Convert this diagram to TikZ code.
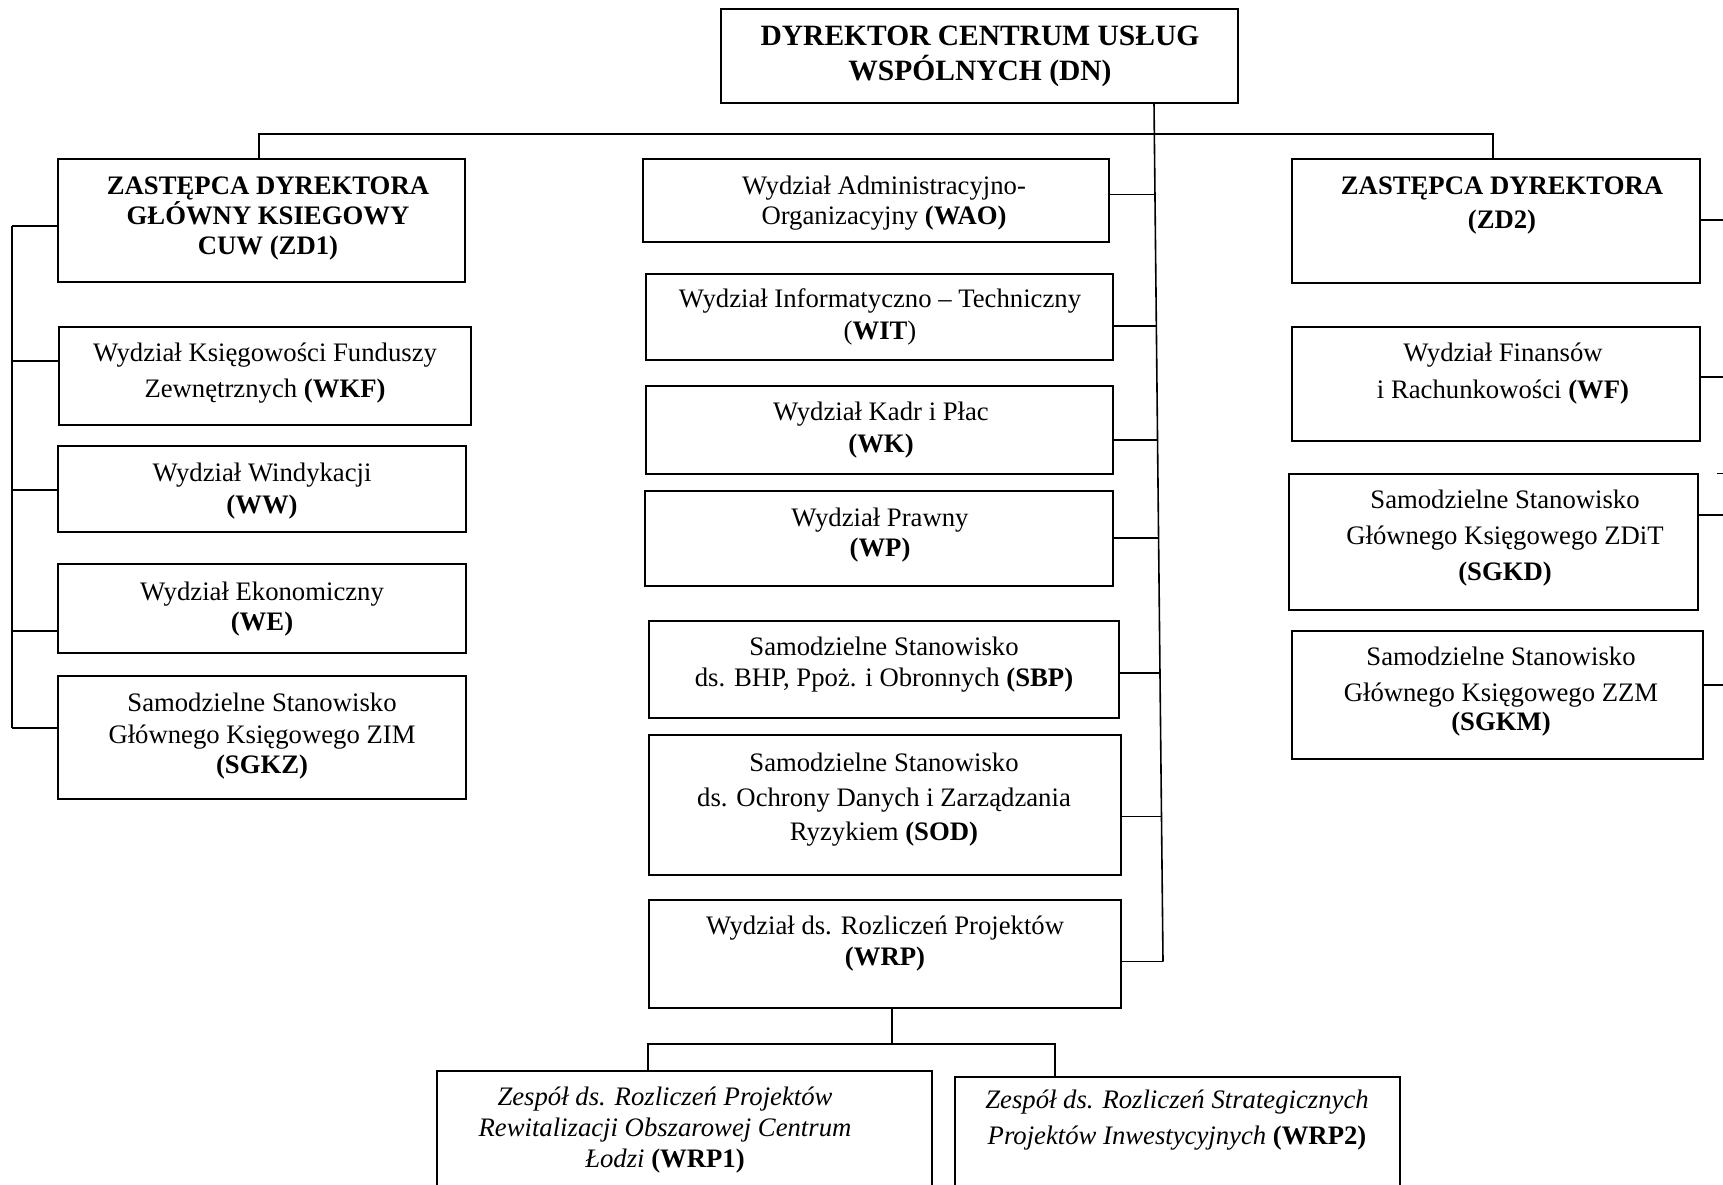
\documentclass[tikz,border=0pt]{standalone}
\usepackage{fontspec}
\setmainfont{Liberation Serif}
\begin{document}
\begin{tikzpicture}[x=1pt,y=-1pt,
  box/.style={draw, line width=1.8pt, inner sep=0pt},
  txt/.style={inner sep=0pt, font=\fontsize{26.7}{31}\selectfont},
  bigtxt/.style={inner sep=0pt, font=\fontsize{29.5}{34}\selectfont\bfseries},
  hd/.style={inner sep=0pt, font=\fontsize{26.7}{31}\selectfont\bfseries},
  conn/.style={line width=1.6pt}]
\newcommand{\bx}[5]{\node[box, minimum width={#4-#2}, minimum height={#5-#3}] (#1) at ({(#2+#4)/2},{(#3+#5)/2}) {};}
\newcommand{\tline}[5][txt]{\node[#1, anchor=base] (#2) at (#3,#4) {#5};}
\useasboundingbox (0,0) rectangle (1723,1185);
\clip (0,0) rectangle (1723,1185);
\fill[white] (0,0) rectangle (1723,1185);
% ---------- boxes ----------
\bx{DN}{721}{9}{1238}{103}
\bx{ZD1}{58}{159}{465}{282}
\bx{WKF}{59}{327}{471}{425}
\bx{WW}{58}{446}{466}{532}
\bx{WE}{58}{564}{466}{653}
\bx{SGKZ}{58}{676}{466}{799}
\bx{WAO}{643}{159}{1109}{242}
\bx{WIT}{646}{274}{1113}{360}
\bx{WK}{646}{386}{1113}{474}
\bx{WP}{645}{491}{1113}{586}
\bx{SBP}{649}{621}{1119}{718}
\bx{SOD}{649}{735}{1121}{875}
\bx{WRP}{649}{900}{1121}{1008}
\bx{WRPa}{437}{1071}{932}{1210}
\bx{WRPb}{955}{1077}{1400}{1210}
\bx{ZD2}{1292}{159}{1700}{283}
\bx{WF}{1292}{327}{1700}{441}
\bx{SGKD}{1289}{474}{1698}{610}
\bx{SGKM}{1292}{631}{1703}{759}
% ---------- texts ----------
\tline[bigtxt]{tDN1}{980}{46}{DYREKTOR CENTRUM USŁUG}
\tline[bigtxt]{tDN2}{980}{81}{WSPÓLNYCH (DN)}
\tline[hd]{tZD1a}{268}{194}{ZASTĘPCA DYREKTORA}
\tline[hd]{tZD1b}{268}{224}{GŁÓWNY KSIEGOWY}
\tline[hd]{tZD1c}{268}{254}{CUW (ZD1)}
\tline[hd]{tZD2a}{1502}{195}{ZASTĘPCA DYREKTORA}
\tline[hd]{tZD2b}{1502}{228}{(ZD2)}
\tline{tWAOa}{884}{195}{Wydział Administracyjno-}
\tline{tWAOb}{884}{225}{Organizacyjny \textbf{(WAO)}}
\tline{tWITa}{880}{307}{Wydział Informatyczno – Techniczny}
\tline{tWITb}{880}{339}{(\textbf{WIT})}
\tline{tWKa}{881}{420}{Wydział Kadr i Płac}
\tline{tWKb}{881}{452}{\textbf{(WK)}}
\tline{tWPa}{880}{526}{Wydział Prawny}
\tline{tWPb}{880}{556}{\textbf{(WP)}}
\tline{tSBPa}{884}{655}{Samodzielne Stanowisko}
\tline{tSBPb}{884}{686}{ds. BHP, Ppoż. i Obronnych \textbf{(SBP)}}
\tline{tSODa}{884}{771}{Samodzielne Stanowisko}
\tline{tSODb}{884}{806}{ds. Ochrony Danych i Zarządzania}
\tline{tSODc}{884}{840}{Ryzykiem \textbf{(SOD)}}
\tline{tWRPa}{885}{934}{Wydział ds. Rozliczeń Projektów}
\tline{tWRPb}{885}{965}{\textbf{(WRP)}}
\tline{tWRP1a}{665}{1105}{\textit{Zespół ds. Rozliczeń Projektów}}
\tline{tWRP1b}{665}{1136}{\textit{Rewitalizacji Obszarowej Centrum}}
\tline{tWRP1c}{665}{1167}{\textit{Łodzi} \textbf{(WRP1)}}
\tline{tWRP2a}{1177}{1108}{\textit{Zespół ds. Rozliczeń Strategicznych}}
\tline{tWRP2b}{1177}{1144}{\textit{Projektów Inwestycyjnych} \textbf{(WRP2)}}
\tline{tWKFa}{265}{361}{Wydział Księgowości Funduszy}
\tline{tWKFb}{265}{397}{Zewnętrznych \textbf{(WKF)}}
\tline{tWWa}{262}{481}{Wydział Windykacji}
\tline{tWWb}{262}{513}{\textbf{(WW)}}
\tline{tWEa}{262}{600}{Wydział Ekonomiczny}
\tline{tWEb}{262}{630}{\textbf{(WE)}}
\tline{tSGKZa}{262}{711}{Samodzielne Stanowisko}
\tline{tSGKZb}{262}{743}{Głównego Księgowego ZIM}
\tline{tSGKZc}{262}{773}{\textbf{(SGKZ)}}
\tline{tWFa}{1503}{361}{Wydział Finansów}
\tline{tWFb}{1503}{398}{i Rachunkowości \textbf{(WF)}}
\tline{tSGKDa}{1505}{508}{Samodzielne Stanowisko}
\tline{tSGKDb}{1505}{544}{Głównego Księgowego ZDiT}
\tline{tSGKDc}{1505}{580}{\textbf{(SGKD)}}
\tline{tSGKMa}{1501}{665}{Samodzielne Stanowisko}
\tline{tSGKMb}{1501}{701}{Głównego Księgowego ZZM}
\tline{tSGKMc}{1501}{730}{\textbf{(SGKM)}}
% ---------- connector coordinates ----------
\coordinate (sT) at (1154,103);
\coordinate (bL) at (259,134);
\coordinate (bR) at (1493,134);
\coordinate (jWAO) at (1155,194.5);
\coordinate (jWIT) at (1156.3,326);
\coordinate (jWK) at (1157.5,440);
\coordinate (jWP) at (1158.6,538);
\coordinate (jSBP) at (1160,673);
\coordinate (jSOD) at (1161.5,816.5);
\coordinate (jWRP) at (1163,961.5);
\coordinate (lZD1) at (12,226);
\coordinate (lWKF) at (12,361);
\coordinate (lWW) at (12,490);
\coordinate (lWE) at (12,631);
\coordinate (lSGKZ) at (12,728);
\coordinate (rZD2) at (1723,220);
\coordinate (rWF) at (1723,377);
\coordinate (rSGKD) at (1723,515);
\coordinate (rSGKM) at (1723,685);
\coordinate (tickA) at (1717,473);
\coordinate (tickB) at (1723,473);
\coordinate (wM) at (892,1044);
\coordinate (wL) at (648,1044);
\coordinate (wR) at (1055,1044);
% ---------- connectors ----------
\draw[conn] (sT) -- (jWRP);
\draw[conn] (ZD1.north -| bL) -- (bL) -- (bR) -- (ZD2.north -| bR);
\draw[conn] (WAO.east |- jWAO) -- (jWAO);
\draw[conn] (WIT.east |- jWIT) -- (jWIT);
\draw[conn] (WK.east |- jWK) -- (jWK);
\draw[conn] (WP.east |- jWP) -- (jWP);
\draw[conn] (SBP.east |- jSBP) -- (jSBP);
\draw[conn] (SOD.east |- jSOD) -- (jSOD);
\draw[conn] (WRP.east |- jWRP) -- (jWRP);
\draw[conn] (lZD1) -- (lSGKZ);
\draw[conn] (ZD1.west |- lZD1) -- (lZD1);
\draw[conn] (WKF.west |- lWKF) -- (lWKF);
\draw[conn] (WW.west |- lWW) -- (lWW);
\draw[conn] (WE.west |- lWE) -- (lWE);
\draw[conn] (SGKZ.west |- lSGKZ) -- (lSGKZ);
\draw[conn] (ZD2.east |- rZD2) -- (rZD2);
\draw[conn] (WF.east |- rWF) -- (rWF);
\draw[conn] (SGKD.east |- rSGKD) -- (rSGKD);
\draw[conn] (SGKM.east |- rSGKM) -- (rSGKM);
\draw[line width=1pt] (tickA) -- (tickB);
\draw[conn] (WRP.south -| wM) -- (wM);
\draw[conn] (WRPa.north -| wL) -- (wL) -- (wR) -- (WRPb.north -| wR);
\end{tikzpicture}
\end{document}
